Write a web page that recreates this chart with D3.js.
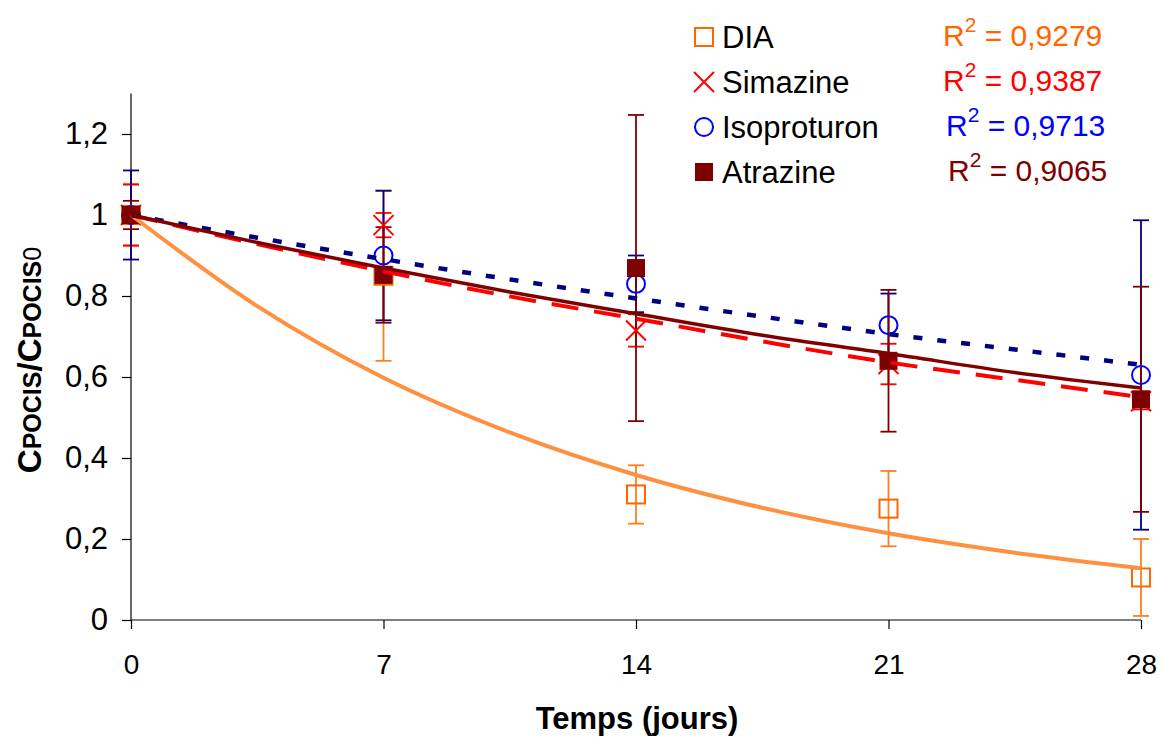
<!DOCTYPE html>
<html>
<head>
<meta charset="utf-8">
<script src="https://cdn.jsdelivr.net/npm/d3@7/dist/d3.min.js"></script>
<style>
  body { margin: 0; background: #fff; }
  svg { display: block; font-family: 'Liberation Sans', Arial, sans-serif; }
</style>
</head>
<body>
<div id="chart"></div>
<script>
// measured points (days)
var days = [0, 7, 14, 21, 28];

var dia = [1.0, 0.85, 0.31, 0.275, 0.105];
var diaErr = [0.077, 0.21, 0.072, 0.093, 0.095];
var simazine = [1.0, 0.975, 0.715, 0.632, 0.54];
var simazineErr = [0.075, 0.03, 0.04, 0.05, 0.02];
var isoproturon = [1.0, 0.90, 0.83, 0.728, 0.605];
var isoproturonErr = [0.11, 0.16, 0.07, 0.078, 0.382];
var atrazine = [1.0, 0.852, 0.869, 0.64, 0.545];
var atrazineErr = [0.035, 0.118, 0.378, 0.175, 0.278];

// trend curves
var trendDays = [0, 3.5, 7, 10.5, 14, 17.5, 21, 24.5, 28];
var diaTrend = [1, 0.775, 0.598, 0.463, 0.358, 0.277, 0.214, 0.166, 0.128];
var simazineTrend = [1, 0.928, 0.861, 0.799, 0.744, 0.688, 0.636, 0.593, 0.55];
var isoproturonTrend = [1, 0.944, 0.891, 0.841, 0.794, 0.749, 0.706, 0.668, 0.63];
var atrazineTrend = [1, 0.932, 0.869, 0.81, 0.756, 0.703, 0.658, 0.611, 0.573];

var r2 = ['0,9279', '0,9387', '0,9713', '0,9065'];
var xTicks = [0, 7, 14, 21, 28];
var yTicks = [0, 0.2, 0.4, 0.6, 0.8, 1, 1.2];

var series = [
  {name: 'DIA', values: dia, err: diaErr, trend: diaTrend, marker: 'square',
   color: '#FF6600', barColor: '#FF7F1F', lineColor: '#FF9040', dash: null, lw: 4, r2color: '#FF6600'},
  {name: 'Simazine', values: simazine, err: simazineErr, trend: simazineTrend, marker: 'cross',
   color: '#FF0000', barColor: '#FF0000', lineColor: '#FF0000', dash: '27,16', lw: 4, r2color: '#FF0000'},
  {name: 'Isoproturon', values: isoproturon, err: isoproturonErr, trend: isoproturonTrend, marker: 'circle',
   color: '#0000FF', barColor: '#000080', lineColor: '#000080', dash: '9,15', lw: 4.5, r2color: '#0000FF'},
  {name: 'Atrazine', values: atrazine, err: atrazineErr, trend: atrazineTrend, marker: 'filled',
   color: '#800000', barColor: '#800000', lineColor: '#800000', dash: null, lw: 3.5, r2color: '#800000'}
];

var width = 1163, height = 738;
var x = d3.scaleLinear().domain([0, 28]).range([131, 1141]);
var y = d3.scaleLinear().domain([0, 1.3]).range([620, 93.5]);

var svg = d3.select('#chart').append('svg')
  .attr('width', width)
  .attr('height', height);

// axes
var xaxis = d3.axisBottom(x).tickValues(xTicks).tickSize(9).tickPadding(20)
  .tickFormat(function(d) { return d; });
var yaxis = d3.axisLeft(y).tickValues(yTicks).tickSize(9).tickPadding(14)
  .tickFormat(function(d) { return String(d).replace('.', ','); });

var gx = svg.append('g')
  .attr('transform', 'translate(0,' + y(0) + ')')
  .call(xaxis);
var gy = svg.append('g')
  .attr('transform', 'translate(' + x(0) + ',0)')
  .call(yaxis);

[gx, gy].forEach(function(g) {
  g.select('.domain').attr('stroke', '#000').attr('stroke-width', 1.2);
  g.selectAll('.tick line').attr('stroke', '#000').attr('stroke-width', 1.2);
  g.selectAll('.tick text').attr('fill', '#000')
    .style('font-family', "'Liberation Sans', Arial, sans-serif");
});
gx.selectAll('.tick text').style('font-size', '28px').attr('dy', '0.9em');
gy.selectAll('.tick text').style('font-size', '31px');
// axis line goes to 1.3, no tick there
gy.select('.domain').attr('d', 'M-0,' + y(1.3) + 'V' + y(0));
gx.select('.domain').attr('d', 'M' + x(0) + ',0H' + x(28));

// error bars
var cap = 8;
series.forEach(function(s) {
  var g = svg.append('g').attr('class', 'err');
  days.forEach(function(d, i) {
    var lo = y(s.values[i] - s.err[i]), hi = y(s.values[i] + s.err[i]), cx = x(d);
    g.append('line').attr('x1', cx).attr('x2', cx).attr('y1', lo).attr('y2', hi)
      .attr('stroke', s.barColor).attr('stroke-width', 1.8);
    g.append('line').attr('x1', cx - cap).attr('x2', cx + cap).attr('y1', lo).attr('y2', lo)
      .attr('stroke', s.barColor).attr('stroke-width', 1.8);
    g.append('line').attr('x1', cx - cap).attr('x2', cx + cap).attr('y1', hi).attr('y2', hi)
      .attr('stroke', s.barColor).attr('stroke-width', 1.8);
  });
});

var drawMarker = function(g, type, color, cx, cy) {
  if (type === 'square') {
    g.append('rect').attr('x', cx - 9).attr('y', cy - 9).attr('width', 18).attr('height', 18)
      .attr('fill', 'none').attr('stroke', color).attr('stroke-width', 2);
  } else if (type === 'filled') {
    g.append('rect').attr('x', cx - 9).attr('y', cy - 9).attr('width', 18).attr('height', 18)
      .attr('fill', color);
  } else if (type === 'circle') {
    g.append('circle').attr('cx', cx).attr('cy', cy).attr('r', 9)
      .attr('fill', 'none').attr('stroke', color).attr('stroke-width', 2);
  } else if (type === 'cross') {
    g.append('path')
      .attr('d', 'M' + (cx - 10) + ',' + (cy - 10) + 'L' + (cx + 10) + ',' + (cy + 10) +
        'M' + (cx - 10) + ',' + (cy + 10) + 'L' + (cx + 10) + ',' + (cy - 10))
      .attr('stroke', color).attr('stroke-width', 2).attr('fill', 'none');
  }
};

// markers
series.forEach(function(s) {
  var g = svg.append('g');
  days.forEach(function(d, i) {
    drawMarker(g, s.marker, s.color, x(d), y(s.values[i]));
  });
});

// trend lines on top
var line = d3.line()
  .x(function(d) { return x(d[0]); })
  .y(function(d) { return y(d[1]); })
  .curve(d3.curveMonotoneX);

series.forEach(function(s) {
  var pts = trendDays.map(function(d, i) { return [d, s.trend[i]]; });
  var p = svg.append('path')
    .attr('d', line(pts))
    .attr('fill', 'none')
    .attr('stroke', s.lineColor)
    .attr('stroke-width', s.lw);
  if (s.dash) p.attr('stroke-dasharray', s.dash);
});

// legend
var legendY = [37, 82, 127, 172];
var r2x = [943, 943, 946, 948];
series.forEach(function(s, i) {
  var g = svg.append('g');
  drawMarker(g, s.marker, s.color, 704, legendY[i]);
  g.append('text').attr('x', 722).attr('y', legendY[i] + 11)
    .style('font-size', '31px').attr('fill', '#000').text(s.name);
  var t = g.append('text').attr('x', r2x[i]).attr('y', legendY[i] + 9)
    .style('font-size', '30px').attr('fill', s.r2color);
  t.append('tspan').text('R');
  t.append('tspan').attr('dy', -14).style('font-size', '21px').text('2');
  t.append('tspan').attr('dy', 14).text(' = ' + r2[i]);
});

// axis titles
svg.append('text')
  .attr('x', 637).attr('y', 729)
  .attr('text-anchor', 'middle')
  .style('font-size', '31px').style('font-weight', 'bold')
  .text('Temps (jours)');

var yt = svg.append('text')
  .attr('transform', 'translate(41,360) rotate(-90)')
  .attr('text-anchor', 'middle')
  .style('font-weight', 'bold').style('font-size', '33px');
yt.append('tspan').text('C');
yt.append('tspan').style('font-size', '25px').text('POCIS');
yt.append('tspan').text('/C');
yt.append('tspan').style('font-size', '25px').text('POCIS');
yt.append('tspan').style('font-size', '25px').style('font-weight', 'normal').text('0');
</script>
</body>
</html>
